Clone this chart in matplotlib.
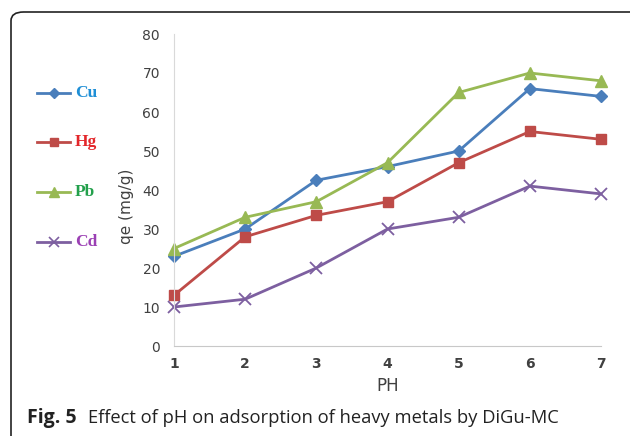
import matplotlib
matplotlib.use('Agg')
import matplotlib.pyplot as plt
from matplotlib.patches import FancyBboxPatch
from matplotlib.lines import Line2D

ph = [1, 2, 3, 4, 5, 6, 7]
cu = [23, 30, 42.5, 46, 50, 66, 64]
hg = [13, 28, 33.5, 37, 47, 55, 53]
pb = [25, 33, 37, 47, 65, 70, 68]
cd = [10, 12, 20, 30, 33, 41, 39]

names = ['Cu', 'Hg', 'Pb', 'Cd']
line_colors = ['#4a7ebb', '#be4b48', '#98b954', '#7d5fa0']
text_colors = ['#1f8fd6', '#e3262a', '#23a04c', '#9b40b4']
markers = ['D', 's', '^', 'x']
msizes = [6, 7, 8, 8]

fig = plt.figure(figsize=(6.3, 4.36), dpi=100)

# outer rounded frame (open at bottom/right like the scanned figure)
frame = FancyBboxPatch((11 / 630, -0.2), 1.2, 1 - 12 / 436 + 0.2,
                       boxstyle='round,pad=0,rounding_size=0.02',
                       transform=fig.transFigure, fill=False,
                       edgecolor='#222222', linewidth=1.2, clip_on=True)
fig.patches.append(frame)

ax = fig.add_axes([174 / 630, 1 - 346 / 436, (601 - 174) / 630, (346 - 34) / 436])

for ys, c, m, s in zip([cu, hg, pb, cd], line_colors, markers, msizes):
    ax.plot(ph, ys, color=c, marker=m, markersize=s, linewidth=2,
            markeredgewidth=1.3 if m == 'x' else 1, clip_on=False)

ax.set_xlim(1, 7)
ax.set_ylim(0, 80)
ax.set_xticks(ph)
ax.set_yticks(range(0, 81, 10))
ax.tick_params(length=0, colors='#404040', labelsize=10)
ax.tick_params(axis='y', pad=10)
ax.tick_params(axis='x', pad=8)
for lab in ax.get_xticklabels():
    lab.set_fontweight('bold')

for side in ['top', 'right']:
    ax.spines[side].set_visible(False)
ax.spines['left'].set_color('#d9d9d9')
ax.spines['bottom'].set_color('#c8c8c8')

fig.text(388 / 630, 1 - 386 / 436, 'PH', ha='center', va='center',
         fontsize=12, color='#404040')
fig.text(126 / 630, 1 - 206 / 436, 'qe (mg/g)', ha='center', va='center',
         rotation=90, fontsize=11, color='#404040')

# hand-made legend on the left
leg_y = [93, 142, 192, 242]
for name, lc, tc, m, s, yy in zip(names, line_colors, text_colors, markers, msizes, leg_y):
    yf = 1 - yy / 436
    fig.add_artist(Line2D([37 / 630, 70 / 630], [yf, yf], color=lc, linewidth=2,
                          transform=fig.transFigure))
    fig.add_artist(Line2D([53.5 / 630], [yf], color=lc, marker=m, markersize=s - 1,
                          markeredgewidth=1.2 if m == 'x' else 1,
                          transform=fig.transFigure))
    fig.text(75 / 630, yf, name, ha='left', va='center', fontsize=12.5,
             fontweight='bold', family='Liberation Serif', color=tc)

# caption
fig.text(27 / 630, 1 - 418 / 436, 'Fig. 5', ha='left', va='center', fontsize=14,
         fontweight='bold', family='Open Sans', color='#222222')
fig.text(88 / 630, 1 - 418 / 436, 'Effect of pH on adsorption of heavy metals by DiGu-MC',
         ha='left', va='center', fontsize=13.2, family='Open Sans', color='#222222')

fig.savefig('out.png', dpi=100)
